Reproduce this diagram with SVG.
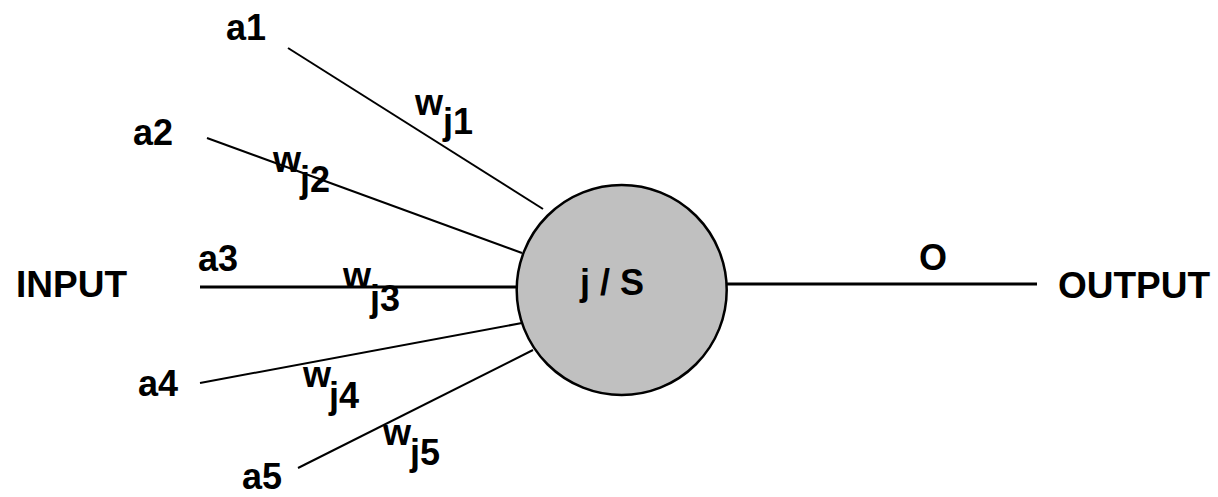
<svg xmlns="http://www.w3.org/2000/svg" width="1218" height="497" viewBox="0 0 1218 497">
  <style>
    .lbl { font-family: "Liberation Sans", Arial, sans-serif; font-weight: bold; fill: #000; }
    .big { font-size: 37px; }
    .in  { font-size: 36px; }
    .wt  { font-size: 36px; }
    .wire { stroke: #000; stroke-width: 2; fill: none; }
    .bus  { stroke: #000; stroke-width: 3; fill: none; }
    .neuron { fill: #c0c0c0; stroke: #000; stroke-width: 2.5; }
  </style>
  <rect width="1218" height="497" fill="#fff"/>

  <!-- weighted input connections and the output line -->
  <g id="connectors">
    <line class="wire" x1="288" y1="48" x2="543" y2="209"/>
    <line class="wire" x1="207" y1="138" x2="522" y2="253"/>
    <line class="bus" x1="200" y1="287" x2="518" y2="287"/>
    <line class="wire" x1="200" y1="383" x2="522" y2="323"/>
    <line class="wire" x1="298" y1="468" x2="533" y2="350"/>
    <line class="bus" x1="726" y1="284" x2="1037" y2="284"/>
  </g>

  <!-- weight labels -->
  <g id="weights">
    <text class="lbl wt" x="415" y="115">w<tspan dy="19">j1</tspan></text>
    <text class="lbl wt" x="273" y="172">w<tspan dx="-1" dy="20">j2</tspan></text>
    <text class="lbl wt" x="343" y="288">w<tspan dx="-1" dy="23">j3</tspan></text>
    <text class="lbl wt" x="303" y="387">w<tspan dx="-2" dy="21">j4</tspan></text>
    <text class="lbl wt" x="383" y="445">w<tspan dx="-1" dy="20">j5</tspan></text>
  </g>

  <!-- input values -->
  <g id="inputs">
    <text class="lbl in" x="226" y="40">a1</text>
    <text class="lbl in" x="133" y="145">a2</text>
    <text class="lbl in" x="198" y="271">a3</text>
    <text class="lbl in" x="138" y="396">a4</text>
    <text class="lbl in" x="242" y="489">a5</text>
  </g>

  <g id="input-label">
    <text class="lbl big" x="16" y="297">INPUT</text>
  </g>

  <!-- neuron j with summation S -->
  <g id="neuron">
    <circle class="neuron" cx="621.7" cy="290" r="105"/>
    <text class="lbl wt" x="612" y="295" text-anchor="middle">j / S</text>
  </g>

  <g id="output-value">
    <text class="lbl in" x="919" y="270">O</text>
  </g>

  <g id="output-label">
    <text class="lbl big" x="1058" y="298">OUTPUT</text>
  </g>
</svg>
